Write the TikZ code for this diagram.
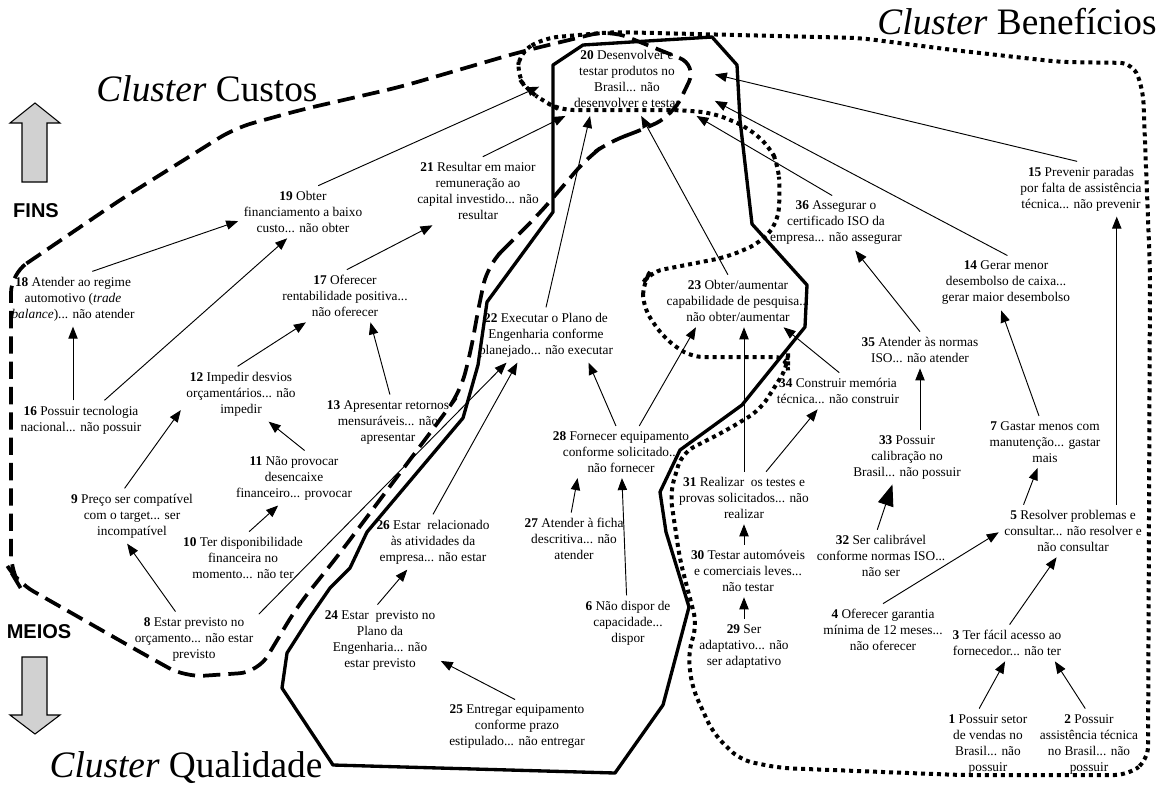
\documentclass[tikz,border=0pt]{standalone}
\usepackage{fontspec}
\setmainfont{Liberation Serif}
\newfontfamily\labelfont{Liberation Sans}
\usepackage{tikz}
\usetikzlibrary{arrows.meta}

\begin{document}
\begin{tikzpicture}[
x=0.75pt,y=-0.75pt,
concept/.style={
  align=center,
  font=\fontsize{10}{12}\selectfont,
  inner sep=4pt
  },
goal/.style={concept,inner xsep=26pt,inner ysep=6pt},
link/.style={-{Triangle[length=9pt,width=7pt]},line width=0.7pt},
biglink/.style={-{Triangle[length=16pt,width=12pt]},line width=0.7pt},
custos/.style={line width=2.8pt,dash pattern=on 13pt off 6pt},
qualidade/.style={line width=2.5pt,line join=round},
beneficios/.style={line width=3pt,dash pattern=on 3pt off 3pt},
clusterlabel/.style={font=\fontsize{28}{30}\selectfont,anchor=base,inner sep=0pt},
sidelabel/.style={font=\labelfont\bfseries\fontsize{15}{18}\selectfont},
blockarrow/.style={draw,fill=black!18,line width=0.8pt}
]
\useasboundingbox (0,0) rectangle (1171,790);

% clusters
\draw[custos,rounded corners=14pt] (11,274) -- (120,200) -- (235,128) -- (300,110)
  -- (400,87) -- (520,52) -- (610,30) -- (697,65) -- (673,115) -- (640,131)
  -- (610,141) -- (588,157) -- (540,213) -- (510,243) -- (488,265) -- (480,300)
  -- (470,355) -- (460,392) -- (445,413) -- (340,553) -- (297,607) -- (258,672)
  -- (185,677) -- (140,652) -- (17,582) -- (11,572) -- cycle;
\draw[qualidade] (583,45) -- (712,37) -- (737,65) -- (740,120) -- (752,224)
  -- (807,285) -- (805,327) -- (742,405) -- (680,450) -- (660,492) -- (666,532)
  -- (689,607) -- (663,705) -- (615,773) -- (333,765) -- (282,688) -- (287,653)
  -- (310,617) -- (330,588) -- (350,568) -- (367,532) -- (463,418) -- (478,365)
  -- (487,302) -- (553,212) -- (553,65) -- cycle;
\draw[beneficios,rounded corners=10pt] (520,52) -- (545,38) -- (613,32) -- (860,38)
  -- (953,50) -- (1060,62) -- (1133,63) -- (1143,90) -- (1150,270) -- (1148,760)
  -- (1128,775) -- (960,775) -- (780,768) -- (740,760) -- (713,733) -- (692,687)
  -- (688,653) -- (697,625) -- (680,560) -- (670,493) -- (682,453) -- (727,430)
  -- (760,410) -- (788,366) -- (788,357) -- (690,357) -- (663,337) -- (643,307)
  -- (643,283) -- (650,272) -- (727,257) -- (760,243) -- (778,222) -- (780,190)
  -- (778,165) -- (770,147) -- (747,127) -- (713,113) -- (680,110) -- (560,110)
  -- (547,103) -- (527,90) -- (517,75) -- cycle;

% fins and meios
\draw[blockarrow] (35,103) -- (60,123) -- (47,123) -- (47,182) -- (22,182) -- (22,123) -- (10,123) -- cycle;
\draw[blockarrow] (22,657) -- (47,657) -- (47,715) -- (60,715) -- (35,734) -- (10,715) -- (22,715) -- cycle;
\node[sidelabel] (fins) at (36,211) {FINS};
\node[sidelabel] (meios) at (39,632) {MEIOS};
\node[clusterlabel] (custos) at (207,101) {\textit{Cluster} Custos};
\node[clusterlabel] (beneficios) at (1017,34) {\textit{Cluster} Benefícios};
\node[clusterlabel] (qualidade) at (186,777) {\textit{Cluster} Qualidade};

% concepts
\node[goal] (c20) at (627,79) {\textbf{20} Desenvolver e\\testar produtos no\\Brasil... não\\desenvolver e testar};
\node[concept] (c19) at (303,212) {\textbf{19} Obter\\financiamento a baixo\\custo... não obter};
\node[concept] (c21) at (478,191) {\textbf{21} Resultar em maior\\remuneração ao\\capital investido... não\\resultar};
\node[concept] (c18) at (73,299) {\textbf{18} Atender ao regime\\automotivo (\textit{trade}\\\textit{balance})... não atender};
\node[concept] (c17) at (345,296) {\textbf{17} Oferecer\\rentabilidade positiva...\\não oferecer};
\node[concept] (c16) at (81,420) {\textbf{16} Possuir tecnologia\\nacional... não possuir};
\node[concept] (c12) at (241,394) {\textbf{12} Impedir desvios\\orçamentários... não\\impedir};
\node[concept] (c13) at (388,422) {\textbf{13} Apresentar retornos\\mensuráveis... não\\apresentar};
\node[concept] (c11) at (294,478) {\textbf{11} Não provocar\\desencaixe\\financeiro... provocar};
\node[concept] (c9) at (132,516) {\textbf{9} Preço ser compatível\\com o target... ser\\incompatível};
\node[concept] (c10) at (243,558) {\textbf{10} Ter disponibilidade\\financeira no\\momento... não ter};
\node[concept] (c8) at (194,639) {\textbf{8} Estar previsto no\\orçamento... não estar\\previsto};
\node[concept] (c22) at (546,335) {\textbf{22} Executar o Plano de\\Engenharia conforme\\planejado... não executar};
\node[concept] (c23) at (738,301) {\textbf{23} Obter/aumentar\\capabilidade de pesquisa...\\não obter/aumentar};
\node[concept] (c36) at (836,223) {\textbf{36} Assegurar o\\certificado ISO da\\empresa... não assegurar};
\node[concept] (c15) at (1081,189) {\textbf{15} Prevenir paradas\\por falta de assistência\\técnica... não prevenir};
\node[concept] (c14) at (1006,283) {\textbf{14} Gerar menor\\desembolso de caixa...\\gerar maior desembolso};
\node[concept] (c35) at (920,350) {\textbf{35} Atender às normas\\ISO... não atender};
\node[concept] (c34) at (838,391) {\textbf{34} Construir memória\\técnica... não construir};
\node[concept] (c33) at (907,457) {\textbf{33} Possuir\\calibração no\\Brasil... não possuir};
\node[concept] (c7) at (1045,442) {\textbf{7} Gastar menos com\\manutenção... gastar\\mais};
\node[concept] (c5) at (1073,531) {\textbf{5} Resolver problemas e\\consultar... não resolver e\\não consultar};
\node[concept] (c32) at (881,556) {\textbf{32} Ser calibrável\\conforme normas ISO...\\não ser};
\node[concept] (c4) at (883,630) {\textbf{4} Oferecer garantia\\mínima de 12 meses...\\não oferecer};
\node[concept] (c3) at (1007,643) {\textbf{3} Ter fácil acesso ao\\fornecedor... não ter};
\node[concept] (c1) at (988,744) {\textbf{1} Possuir setor\\de vendas no\\Brasil... não\\possuir};
\node[concept] (c2) at (1089,744) {\textbf{2} Possuir\\assistência técnica\\no Brasil... não\\possuir};
\node[concept] (c28) at (621,452) {\textbf{28} Fornecer equipamento\\conforme solicitado...\\não fornecer};
\node[concept] (c31) at (744,498) {\textbf{31} Realizar\ \ os testes e\\provas solicitados... não\\realizar};
\node[concept] (c30) at (748,571) {\textbf{30} Testar automóveis\\e comerciais leves...\\não testar};
\node[concept] (c29) at (744,646) {\textbf{29} Ser\\adaptativo... não\\ser adaptativo};
\node[concept] (c27) at (574,539) {\textbf{27} Atender à ficha\\descritiva... não\\atender};
\node[concept] (c6) at (628,623) {\textbf{6} Não dispor de\\capacidade...\\dispor};
\node[concept] (c26) at (433,542) {\textbf{26} Estar\ \ relacionado\\às atividades da\\empresa... não estar};
\node[concept] (c24) at (380,640) {\textbf{24} Estar\ \ previsto no\\Plano da\\Engenharia... não\\estar previsto};
\node[concept] (c25) at (517,727) {\textbf{25} Entregar equipamento\\conforme prazo\\estipulado... não entregar};

% links
\path[link]
  (c18.55) edge (c19.188)
  (c16.40) edge (c19.239)
  (c17.86) edge (c21.217)
  (c12.97) edge (c17.214)
  (c13.86) edge (c17.314)
  (c9.105) edge (c12.195)
  (c11.69) edge (c12.315)
  (c10.77) edge (c11.240)
  (c8.124) edge (c9.260)
  (c8.21) edge (c22.215)
  (c26.90) edge (c22.224)
  (c19.60) edge (c20.185)
  (c21.82) edge (c20.211)
  (c22.90) edge (c20.225)
  (c23.111) edge (c20.291)
  (c36.98) edge (c20.332)
  (c14.87) edge (c20.346)
  (c15.98) edge (c20.3)
  (c35.90) edge (c36.305)
  (c34.86) edge (c23.330)
  (c7.103) edge (c14.260)
  (c5.152) edge (c7.254)
  (c4.90) edge (c5.181)
  (c3.82) edge (c5.238)
  (c1.104) edge (c3.264)
  (c2.96) edge (c3.339)
  (c28.101) edge (c22.327)
  (c28.55) edge (c23.212)
  (c27.96) edge (c28.211)
  (c6.93) edge (c28.272)
  (c31.50) edge (c34.222)
  (c24.94) edge (c26.227)
  (c25.94) edge (c24.341);
\path[link]
  (c18.south |- c16.north) edge (c18.south)
  (c33.north -| c35.south) edge (c35.south)
  (c5.31) edge (c5.31 |- c15.south)
  (c31.north) edge (c31.north |- c23.south)
  (c31.south |- c30.north) edge (c31.south)
  (c29.north) edge (c29.north |- c30.south);
\path[biglink] (c32.98) edge (c33.242);
\end{tikzpicture}
\end{document}
